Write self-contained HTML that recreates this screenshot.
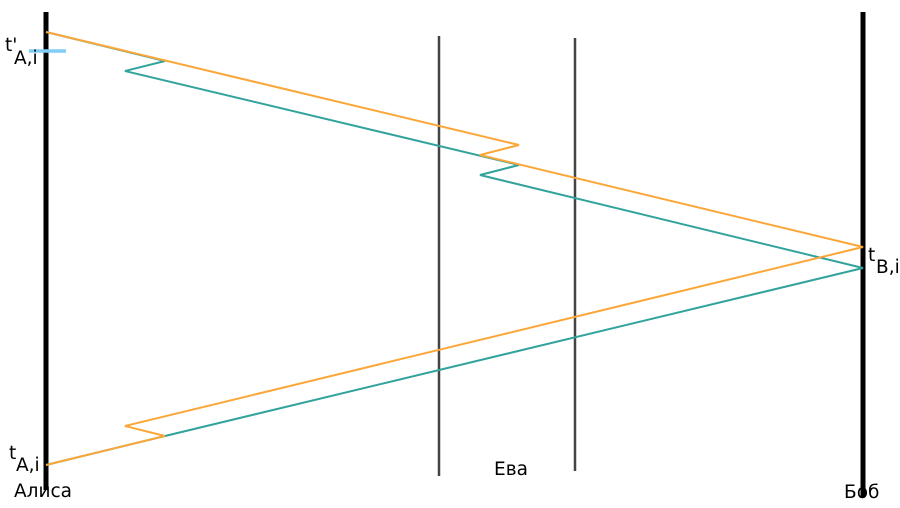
<!DOCTYPE html>
<html><head><meta charset="utf-8"><style>
body{margin:0;background:#fff}
svg text{font-family:"DejaVu Sans","Liberation Sans",sans-serif;font-size:18.5px;fill:#000}
</style></head><body>
<svg width="900" height="503" viewBox="0 0 900 503">
<line x1="46" y1="12" x2="46" y2="490" stroke="#000" stroke-width="5"/>
<line x1="863" y1="12" x2="863" y2="497" stroke="#000" stroke-width="5"/>
<line x1="439" y1="36" x2="439" y2="476" stroke="#444" stroke-width="2.5"/>
<line x1="575" y1="38" x2="575" y2="471" stroke="#444" stroke-width="2.5"/>
<line x1="29" y1="51" x2="66" y2="51" stroke="#80cdf5" stroke-width="3.5"/>
<polyline points="46,32 165,61 125,71 519,165 480,175 863,268 165,436 46,465" fill="none" stroke="#31a39c" stroke-width="2"/>
<polyline points="46,32 519,145 480,155 863,247 125,426 165,436 46,465" fill="none" stroke="#fba637" stroke-width="2"/>
<text x="5" y="51">t'</text>
<text x="14" y="64">A,i</text>
<text x="9" y="459">t</text>
<text x="16" y="471">A,i</text>
<text x="14" y="497">Алиса</text>
<text x="494" y="475">Ева</text>
<text x="844" y="498">Боб</text>
<text x="868" y="261">t</text>
<text x="876" y="273">B,i</text>
</svg>
</body></html>
